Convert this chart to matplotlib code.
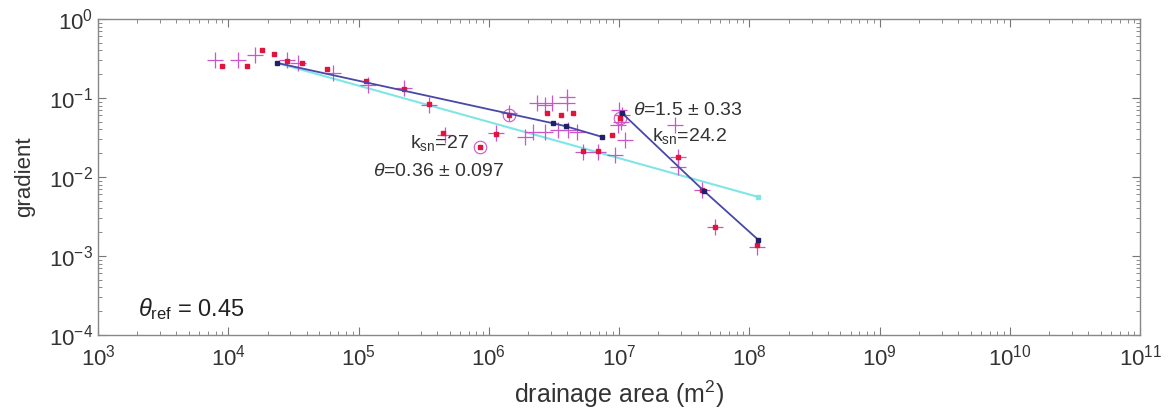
import numpy as np
import matplotlib
matplotlib.use("Agg")
import matplotlib.pyplot as plt
import matplotlib.ticker as ticker

# channel points: drainage area (m^2) vs gradient
dot_area = [8.95e3, 1.39e4, 1.82e4, 2.24e4, 2.82e4, 3.68e4, 5.73e4, 1.14e5, 2.23e5,
            3.48e5, 4.45e5, 8.57e5, 1.14e6, 1.43e6, 2.80e6, 3.59e6, 4.44e6, 5.30e6,
            6.90e6, 8.84e6, 1.02e7, 2.84e7, 4.34e7, 5.46e7, 1.15e8]
dot_grad = [0.254, 0.254, 0.405, 0.361, 0.294, 0.277, 0.233, 0.164, 0.130,
            0.0839, 0.0361, 0.024, 0.035, 0.061, 0.0646, 0.061, 0.0646, 0.0213,
            0.0213, 0.034, 0.0558, 0.0179, 0.00684, 0.00233, 0.00138]

cross_area = [7.9e3, 1.19e4, 1.6e4, 2.82e4, 3.44e4, 6.37e4, 1.18e5, 2.23e5, 3.48e5,
              4.61e5, 1.14e6, 1.43e6, 2.35e6, 2.70e6, 3.06e6, 3.99e6, 3.99e6, 1.90e6,
              2.19e6, 2.70e6, 3.40e6, 4.06e6, 4.76e6, 1.11e7, 9.31e6, 5.3e6, 6.9e6,
              1.0e7, 1.03e7, 0.98e7, 1.05e7, 2.69e7, 2.84e7, 2.84e7, 4.34e7, 5.46e7, 1.15e8]
cross_grad = [0.303, 0.303, 0.35, 0.303, 0.277, 0.207, 0.146, 0.134, 0.0815,
              0.034, 0.0361, 0.0646, 0.0865, 0.0815, 0.0865, 0.103, 0.0865, 0.0321,
              0.0371, 0.0371, 0.0394, 0.0394, 0.0371, 0.0294, 0.019, 0.0208, 0.0208,
              0.07, 0.05, 0.045, 0.06, 0.0455, 0.0179, 0.0134, 0.00684, 0.0023, 0.0013]

circle_area = [8.57e5, 1.43e6, 1.02e7]
circle_grad = [0.024, 0.061, 0.0558]

# segmented fit (upper and lower reach) and reference-concavity fit
fit1_area = [2.37e4, 3.1e6, 3.9e6, 7.41e6]
fit1_grad = [0.277, 0.0478, 0.0438, 0.0321]
fit2_area = [1.05e7, 4.5e7, 1.17e8]
fit2_grad = [0.0646, 0.0066, 0.0016]
ref_area = [2.37e4, 1.17e8]
ref_grad = [0.277, 0.00558]

plt.rcParams.update({
    "font.family": "Liberation Sans",
    "font.size": 13,
    "mathtext.fontset": "custom",
    "mathtext.rm": "Liberation Sans",
    "mathtext.it": "Liberation Sans:italic",
})

fig = plt.figure(figsize=(11.71, 4.11), dpi=100)
ax = fig.add_axes([0.0837, 0.185, 0.89, 0.769])

ax.plot(ref_area, ref_grad, color="#7fe6e6", lw=1.5, zorder=2)
ax.plot(ref_area[-1:], ref_grad[-1:], "s", color="#7fe6e6", ms=2.5, zorder=2)

ax.plot(cross_area, cross_grad, "+", color="#cc55cc", ms=11, mew=0.9, zorder=3)
ax.plot(circle_area, circle_grad, "o", mfc="none", mec="#cc55cc", ms=9, mew=0.8, zorder=3)
ax.plot(dot_area, dot_grad, "s", color="#e0143c", ms=3.5, zorder=4)

for a, g in [(fit1_area, fit1_grad), (fit2_area, fit2_grad)]:
    ax.plot(a, g, color="#4848a8", lw=1.3, zorder=5)
    ax.plot(a, g, "s", color="#20206a", ms=2.5, zorder=6)

txt = dict(fontsize=14, color="#333333", zorder=7)
ax.text(2.48e5, 0.0233, r"k$_{\rm sn}$=27", **txt)
ax.text(1.29e5, 0.0103, r"$\mathit{\theta}$=0.36 $\pm$ 0.097", **txt)
ax.text(1.28e7, 0.061, r"$\mathit{\theta}$=1.5 $\pm$ 0.33", **txt)
ax.text(1.79e7, 0.0286, r"k$_{\rm sn}$=24.2", **txt)
ax.text(2.03e3, 1.74e-4, r"$\mathit{\theta}_{\rm ref}$ = 0.45", fontsize=17, color="#222222")

ax.set_xscale("log")
ax.set_yscale("log")
ax.set_xlim(1e3, 1e11)
ax.set_ylim(1e-4, 1e0)
ax.xaxis.set_major_locator(ticker.LogLocator(base=10, numticks=20))
ax.yaxis.set_major_locator(ticker.LogLocator(base=10, numticks=20))
ax.xaxis.set_minor_locator(ticker.LogLocator(base=10, subs=np.arange(2, 10), numticks=20))
ax.yaxis.set_minor_locator(ticker.LogLocator(base=10, subs=np.arange(2, 10), numticks=20))
ax.xaxis.set_minor_formatter(ticker.NullFormatter())
ax.yaxis.set_minor_formatter(ticker.NullFormatter())

ax.tick_params(which="both", direction="in", top=True, right=True, colors="#777777",
               labelcolor="#333333", labelsize=16)
ax.tick_params(which="major", length=6, width=0.8)
ax.tick_params(which="minor", length=3, width=0.6)
ax.tick_params(axis="x", which="major", pad=7)
for s in ax.spines.values():
    s.set_color("#888888")
    s.set_linewidth(1.0)

ax.set_xlabel("drainage area (m$^2$)", fontsize=18, color="#333333", labelpad=6)
ax.set_ylabel("gradient", fontsize=16, color="#333333", labelpad=10)

fig.savefig("out.png", dpi=100)
